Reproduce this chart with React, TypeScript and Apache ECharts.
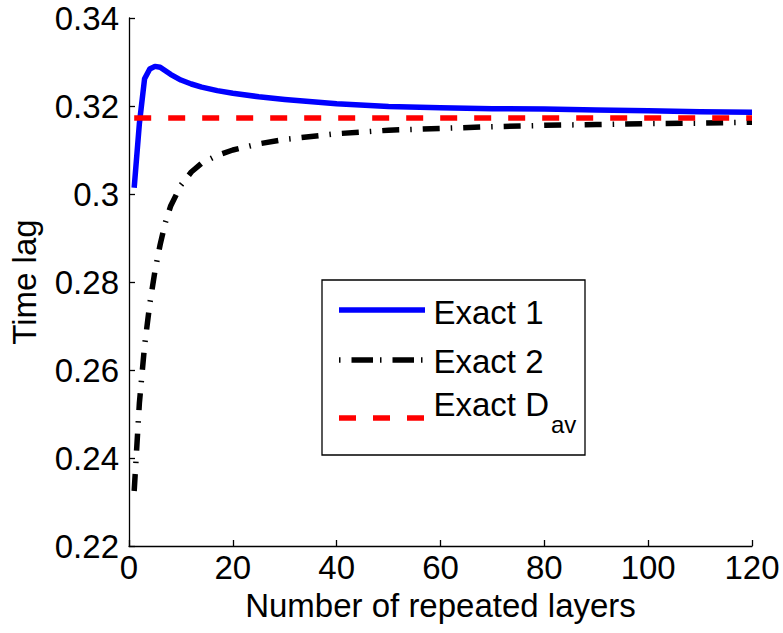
import React, { useEffect, useRef } from "react";
import * as echarts from "echarts";

const layers = [1, 2, 3, 4, 5, 6, 7, 8, 10, 12, 14, 17, 20, 25, 30, 40, 50, 60, 70, 80, 90, 100, 110, 120];
const exact1 = [0.3014, 0.316, 0.3262, 0.3284, 0.329, 0.3288, 0.328, 0.3272, 0.3259, 0.325, 0.3243, 0.3235, 0.3229, 0.3221, 0.3215, 0.3205, 0.3199, 0.3196, 0.3194, 0.3193, 0.3191, 0.3189, 0.3187, 0.3186];
const exact2 = [0.2325, 0.2525, 0.2655, 0.275, 0.2825, 0.2885, 0.2935, 0.2972, 0.302, 0.305, 0.307, 0.3088, 0.31, 0.3114, 0.3124, 0.3137, 0.3145, 0.3149, 0.3153, 0.3156, 0.3158, 0.316, 0.3161, 0.3163];
const davLayers = [1, 120];
const exactDav = [0.3173, 0.3173];

const seriesNames = ["Exact 1", "Exact 2", "Exact D"];
const xTicks = { min: 0, max: 120, interval: 20 };
const yTicks = { min: 0.22, max: 0.34, interval: 0.02 };
const xLabel = "Number of repeated layers";
const yLabel = "Time lag";

const FONT = "'Liberation Sans', Arial, Helvetica, sans-serif";

export default function App() {
  const ref = useRef<HTMLDivElement>(null);
  useEffect(() => {
    if (!ref.current) return;
    const chart = echarts.init(ref.current, undefined, { renderer: "svg" });
    const pairs = (xs: number[], ys: number[]) => xs.map((x, i) => [x, ys[i]]);
    const axisCommon = {
      axisLine: { show: true, onZero: false, lineStyle: { color: "#000", width: 1.3 } },
      axisTick: { show: true, inside: true, length: 6, lineStyle: { color: "#000", width: 1.3 } },
      splitLine: { show: false },
      nameTextStyle: { color: "#000", fontSize: 33, fontFamily: FONT },
    };
    chart.setOption({
      animation: false,
      backgroundColor: "#fff",
      grid: { left: 127, right: 31, top: 18, bottom: 87, containLabel: false },
      xAxis: {
        type: "value",
        ...xTicks,
        ...axisCommon,
        name: xLabel,
        nameLocation: "middle",
        nameGap: 34,
        axisLabel: { color: "#000", fontSize: 33, fontFamily: FONT, margin: 5 },
      },
      yAxis: {
        type: "value",
        ...yTicks,
        ...axisCommon,
        name: yLabel,
        nameLocation: "middle",
        nameGap: 88,
        axisLabel: {
          color: "#000",
          fontSize: 33,
          fontFamily: FONT,
          margin: 10,
          formatter: (v: number) => String(Number(v.toFixed(2))),
        },
      },
      series: [
        {
          name: seriesNames[0],
          type: "line",
          data: pairs(layers, exact1),
          showSymbol: false,
          lineStyle: { color: "#0000ff", width: 5.5, cap: "butt", join: "round" },
        },
        {
          name: seriesNames[1],
          type: "line",
          data: pairs(layers, exact2),
          showSymbol: false,
          lineStyle: { color: "#000", width: 5.5, type: [17, 11, 1.5, 11], cap: "butt" },
        },
        {
          name: seriesNames[2],
          type: "line",
          data: pairs(davLayers, exactDav),
          showSymbol: false,
          lineStyle: { color: "#ff0000", width: 5.5, type: [17, 17], cap: "butt" },
        },
      ],
      graphic: [
        {
          type: "rect",
          shape: { x: 322, y: 280, width: 263, height: 175 },
          style: { fill: "#fff", stroke: "#000", lineWidth: 1.3 },
          z: 10,
        },
        {
          type: "line",
          shape: { x1: 339, y1: 310, x2: 425, y2: 310 },
          style: { stroke: "#0000ff", lineWidth: 5.5 },
          z: 11,
        },
        {
          type: "line",
          shape: { x1: 339, y1: 360, x2: 425, y2: 360 },
          style: { stroke: "#000", lineWidth: 5.5, lineDash: [1.5, 11, 21.5, 7], lineCap: "butt" },
          z: 11,
        },
        {
          type: "line",
          shape: { x1: 339, y1: 418, x2: 425, y2: 418 },
          style: { stroke: "#ff0000", lineWidth: 5.5, lineDash: [17, 17], lineCap: "butt" },
          z: 11,
        },
        {
          type: "text",
          x: 433.5,
          y: 312,
          style: { text: seriesNames[0], font: `33px ${FONT}`, fill: "#000", align: "left", verticalAlign: "middle" },
          z: 11,
        },
        {
          type: "text",
          x: 433.5,
          y: 361.5,
          style: { text: seriesNames[1], font: `33px ${FONT}`, fill: "#000", align: "left", verticalAlign: "middle" },
          z: 11,
        },
        {
          type: "text",
          x: 433.5,
          y: 404.5,
          style: { text: seriesNames[2], font: `33px ${FONT}`, fill: "#000", align: "left", verticalAlign: "middle" },
          z: 11,
        },
        {
          type: "text",
          x: 551,
          y: 424,
          style: { text: "av", font: `24px ${FONT}`, fill: "#000", align: "left", verticalAlign: "middle" },
          z: 11,
        },
      ],
    });
    return () => chart.dispose();
  }, []);
  return (
    <div
      ref={ref}
      style={{ position: "absolute", left: 0, top: 0, width: 783, height: 633, background: "#fff" }}
    />
  );
}
